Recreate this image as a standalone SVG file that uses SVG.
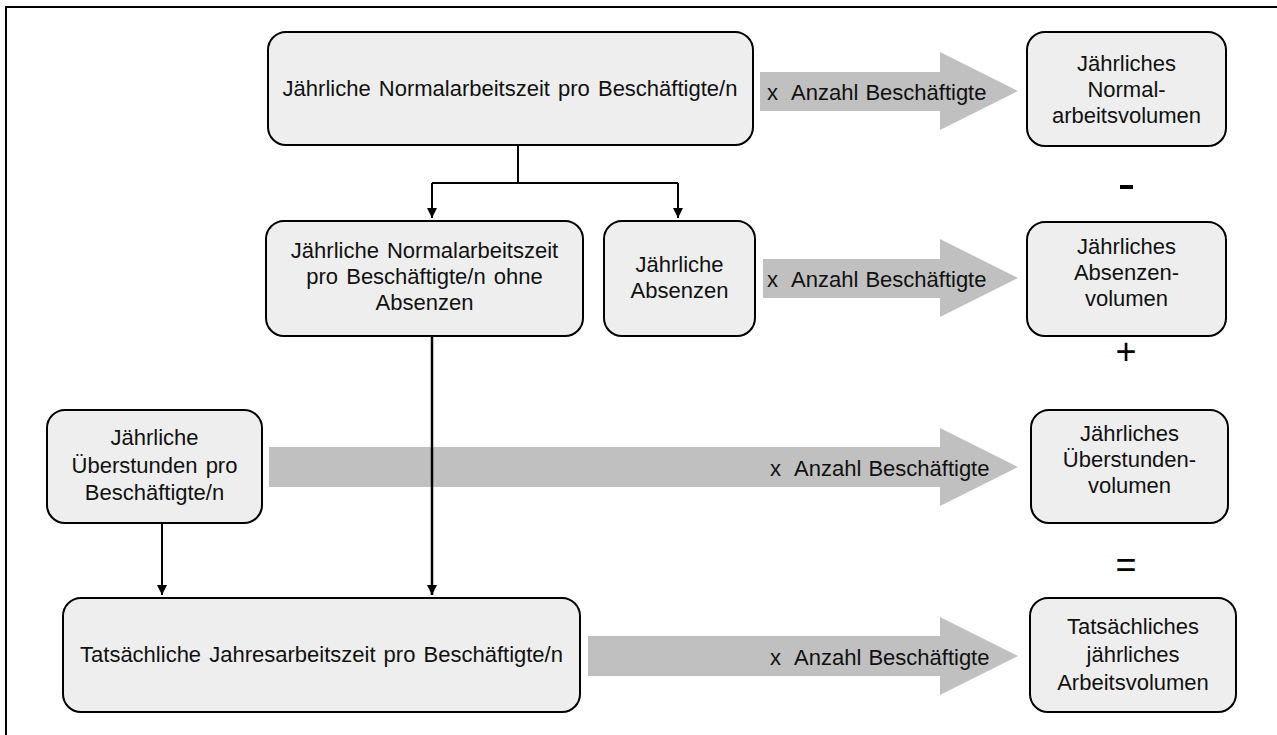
<svg xmlns="http://www.w3.org/2000/svg" width="1277" height="735" viewBox="0 0 1277 735">
<defs>
<style>
.box{fill:#eeeeee;stroke:#000;stroke-width:2}
.t{font-family:"Liberation Sans",Arial,sans-serif;font-size:22px;fill:#111;text-anchor:middle;word-spacing:2px}
.ta{font-family:"Liberation Sans",Arial,sans-serif;font-size:22px;fill:#111;white-space:pre;word-spacing:1px}
.big{fill:#c0c0c0}
.ln{fill:none;stroke:#000;stroke-width:2}
.sym{font-family:"Liberation Sans",Arial,sans-serif;font-size:36px;fill:#000;text-anchor:middle}
</style>
<marker id="ah" viewBox="0 0 10 10" refX="10" refY="5" markerWidth="11" markerHeight="10" markerUnits="userSpaceOnUse" orient="auto">
<path d="M0,0 L10,5 L0,10 Z" fill="#000"/>
</marker>
</defs>
<rect x="6" y="7" width="1400" height="900" fill="#fff" stroke="#000" stroke-width="2"/>

<g id="bigarrows">
<path class="big" d="M760,72 H940 V52 L1018,91 L940,130 V111 H760 Z"/>
<path class="big" d="M763,259 H940 V239 L1018,278 L940,317 V298 H763 Z"/>
<path class="big" d="M269,447 H940 V428 L1018,467 L940,506 V487 H269 Z"/>
<path class="big" d="M588,636 H940 V617 L1018,656 L940,695 V676 H588 Z"/>
<text class="ta" x="767" y="100" xml:space="preserve">x  Anzahl Beschäftigte</text>
<text class="ta" x="767" y="287" xml:space="preserve">x  Anzahl Beschäftigte</text>
<text class="ta" x="770" y="476" xml:space="preserve">x  Anzahl Beschäftigte</text>
<text class="ta" x="770" y="665" xml:space="preserve">x  Anzahl Beschäftigte</text>
</g>

<g id="connectors">
<path class="ln" d="M518,145 V183 M432,183 H678"/>
<path class="ln" d="M432,183 V218" marker-end="url(#ah)"/>
<path class="ln" d="M678,183 V218" marker-end="url(#ah)"/>
<path class="ln" style="stroke-width:2.5" d="M432,336 V595" marker-end="url(#ah)"/>
<path class="ln" d="M162,523 V595" marker-end="url(#ah)"/>
</g>

<g id="n1">
<rect class="box" x="268" y="32" width="485" height="113" rx="18"/>
<text class="t" x="510" y="96">Jährliche Normalarbeitszeit pro Beschäftigte/n</text>
</g>
<g id="n2">
<rect class="box" x="266" y="221" width="317" height="115" rx="18"/>
<text class="t" x="424.5" y="258">Jährliche Normalarbeitszeit</text>
<text class="t" x="424.5" y="284">pro Beschäftigte/n ohne</text>
<text class="t" x="424.5" y="310">Absenzen</text>
</g>
<g id="n3">
<rect class="box" x="604" y="221" width="151" height="115" rx="18"/>
<text class="t" x="679.5" y="272">Jährliche</text>
<text class="t" x="679.5" y="298">Absenzen</text>
</g>
<g id="n4">
<rect class="box" x="47" y="410" width="215" height="113" rx="18"/>
<text class="t" x="154.5" y="445">Jährliche</text>
<text class="t" x="154.5" y="473">Überstunden pro</text>
<text class="t" x="154.5" y="500">Beschäftigte/n</text>
</g>
<g id="n5">
<rect class="box" x="63" y="598" width="517" height="114" rx="18"/>
<text class="t" x="321.5" y="662">Tatsächliche Jahresarbeitszeit pro Beschäftigte/n</text>
</g>
<g id="r1">
<rect class="box" x="1027" y="32" width="199" height="114" rx="18"/>
<text class="t" x="1126.5" y="71">Jährliches</text>
<text class="t" x="1126.5" y="97">Normal-</text>
<text class="t" x="1126.5" y="123">arbeitsvolumen</text>
</g>
<g id="r2">
<rect class="box" x="1027" y="222" width="199" height="114" rx="18"/>
<text class="t" x="1126.5" y="254">Jährliches</text>
<text class="t" x="1126.5" y="280">Absenzen-</text>
<text class="t" x="1126.5" y="306">volumen</text>
</g>
<g id="r3">
<rect class="box" x="1031" y="410" width="197" height="113" rx="18"/>
<text class="t" x="1129.5" y="441">Jährliches</text>
<text class="t" x="1129.5" y="467">Überstunden-</text>
<text class="t" x="1129.5" y="493">volumen</text>
</g>
<g id="r4">
<rect class="box" x="1030" y="598" width="206" height="114" rx="18"/>
<text class="t" x="1133" y="634">Tatsächliches</text>
<text class="t" x="1133" y="662">jährliches</text>
<text class="t" x="1133" y="690">Arbeitsvolumen</text>
</g>
<g id="ops">
<rect x="1120" y="185" width="13" height="4" fill="#000"/>
<text class="sym" x="1126" y="364">+</text>
<text class="sym" x="1126" y="577">=</text>
</g>
</svg>
